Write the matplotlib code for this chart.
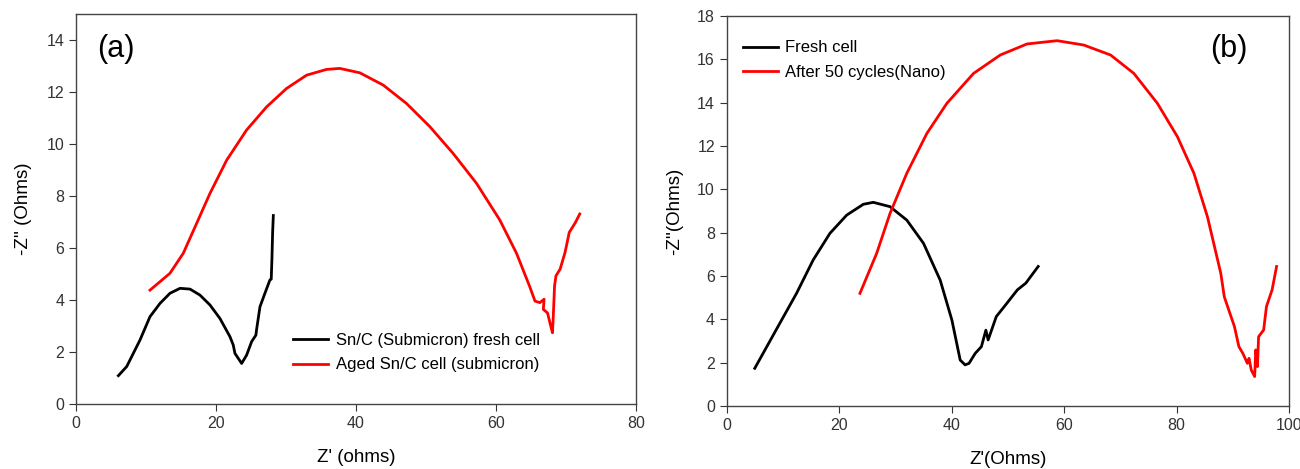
import matplotlib
matplotlib.use('Agg')
import matplotlib.pyplot as plt

plt.rcParams['font.family'] = ['Liberation Sans', 'DejaVu Sans']

# Panel (a) data - Nyquist plot, submicron Sn/C
a_fresh_x = [6.05, 7.24, 9.14, 10.57, 12.0, 13.43, 14.86, 16.29, 17.71, 19.14, 20.57, 22.0,
             22.47, 22.71, 23.67, 24.38, 25.1, 25.71, 25.8, 26.29, 27.0, 27.71, 27.9, 28.0,
             28.1, 28.2]
a_fresh_y = [1.09, 1.44, 2.46, 3.36, 3.87, 4.26, 4.45, 4.42, 4.19, 3.81, 3.29, 2.59,
             2.27, 1.95, 1.56, 1.88, 2.4, 2.65, 2.85, 3.74, 4.26, 4.77, 4.8, 5.57,
             6.6, 7.25]
a_aged_x = [10.57, 13.43, 15.33, 17.24, 19.14, 21.53, 24.38, 27.24, 30.1, 32.96, 35.8, 37.7,
            40.57, 43.9, 47.24, 50.57, 53.9, 57.24, 60.57, 62.96, 64.86, 65.6, 66.3, 66.9,
            66.8, 67.4, 67.8, 68.1, 68.2, 68.4, 68.6, 69.2, 69.9, 70.5, 71.4, 72.0]
a_aged_y = [4.38, 5.03, 5.8, 6.95, 8.1, 9.38, 10.54, 11.43, 12.14, 12.65, 12.87, 12.91,
            12.74, 12.27, 11.56, 10.67, 9.64, 8.49, 7.08, 5.8, 4.51, 3.96, 3.9, 4.03,
            3.64, 3.5, 3.06, 2.74, 3.26, 4.54, 4.93, 5.19, 5.83, 6.6, 6.99, 7.31]

# Panel (b) data - nano
b_fresh_x = [4.99, 6.47, 9.45, 12.42, 15.38, 18.36, 21.34, 24.3, 26.08, 29.05, 32.03, 35.0,
             37.97, 40.05, 41.53, 42.4, 43.1, 44.2, 45.3, 46.1, 46.5, 47.95, 49.4, 51.7,
             53.2, 55.4]
b_fresh_y = [1.74, 2.43, 3.82, 5.2, 6.74, 7.97, 8.81, 9.31, 9.4, 9.2, 8.58, 7.51,
             5.81, 3.97, 2.12, 1.9, 1.97, 2.43, 2.74, 3.5, 3.05, 4.13, 4.6, 5.36,
             5.67, 6.44]
b_aged_x = [23.7, 26.68, 29.05, 32.03, 35.6, 39.16, 43.9, 48.66, 53.42, 58.77, 63.5, 68.27,
            72.42, 76.6, 80.16, 83.1, 85.5, 87.88, 88.5, 90.3, 91.1, 91.8, 92.6, 92.9,
            93.3, 93.9, 94.1, 94.4, 94.6, 95.5, 96.0, 97.0, 97.8]
b_aged_y = [5.2, 7.05, 8.89, 10.74, 12.58, 13.97, 15.35, 16.2, 16.71, 16.86, 16.66, 16.2,
            15.35, 13.97, 12.43, 10.74, 8.74, 6.12, 5.04, 3.67, 2.74, 2.43, 1.97, 2.2,
            1.66, 1.36, 2.59, 1.82, 3.2, 3.51, 4.59, 5.36, 6.44]

fig = plt.figure(figsize=(13, 4.69), dpi=100)
ax1 = fig.add_axes([0.0585, 0.1386, 0.4305, 0.8314])
ax2 = fig.add_axes([0.559, 0.1343, 0.4325, 0.8316])

lw = 2.0
ax1.plot(a_fresh_x, a_fresh_y, color='black', lw=lw, label='Sn/C (Submicron) fresh cell')
ax1.plot(a_aged_x, a_aged_y, color='#ff0000', lw=lw, label='Aged Sn/C cell (submicron)')
ax1.set_xlim(0, 80)
ax1.set_ylim(0, 15)
ax1.set_xticks([0, 20, 40, 60, 80])
ax1.set_yticks(range(0, 15, 2))
ax1.set_xlabel("Z' (ohms)", fontsize=13.5, labelpad=13)
ax1.set_ylabel("-Z'' (Ohms)", fontsize=13.5, labelpad=10)
ax1.text(0.038, 0.95, '(a)', transform=ax1.transAxes, fontsize=22, va='top')
ax1.legend(loc='center left', bbox_to_anchor=(0.361, 0.131), frameon=False,
           fontsize=12, handlelength=2.1, handletextpad=0.45, labelspacing=0.55)

ax2.plot(b_fresh_x, b_fresh_y, color='black', lw=lw, label='Fresh cell')
ax2.plot(b_aged_x, b_aged_y, color='#ff0000', lw=lw, label='After 50 cycles(Nano)')
ax2.set_xlim(0, 100)
ax2.set_ylim(0, 18)
ax2.set_xticks(range(0, 101, 20))
ax2.set_yticks(range(0, 19, 2))
ax2.set_xlabel("Z'(Ohms)", fontsize=13.5, labelpad=13)
ax2.set_ylabel("-Z''(Ohms)", fontsize=13.5, labelpad=10)
ax2.text(0.86, 0.955, '(b)', transform=ax2.transAxes, fontsize=22, va='top')
ax2.legend(loc='center left', bbox_to_anchor=(0.002, 0.887), frameon=False,
           fontsize=12, handlelength=2.1, handletextpad=0.45, labelspacing=0.55)

for ax in (ax1, ax2):
    ax.tick_params(direction='out', length=5, labelsize=11.5, colors='#333333',
                   top=False, right=False)
    for s in ax.spines.values():
        s.set_color('#444444')
        s.set_linewidth(1.0)

fig.savefig('out.png', dpi=100)
